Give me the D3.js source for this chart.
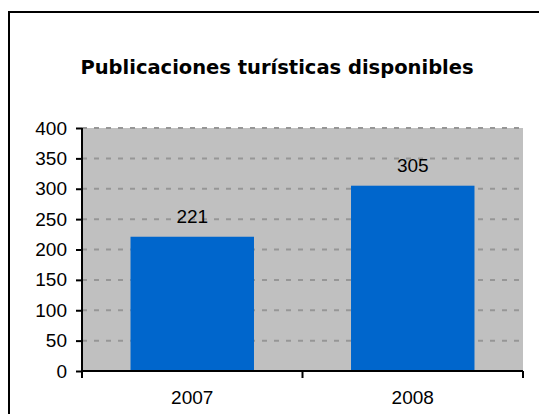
<!DOCTYPE html>
<html>
<head>
<meta charset="utf-8">
<script src="https://cdn.jsdelivr.net/npm/d3@7"></script>
<style>
  body { margin: 0; background: #fff; }
  svg { display: block; }
</style>
</head>
<body>
<div class="chart"></div>
<script>
// chart data
var years = ["2007", "2008"];
var publicaciones = [221, 305];
var yTicks = [0, 50, 100, 150, 200, 250, 300, 350, 400];
var chartTitle = "Publicaciones turísticas disponibles";

var svgWidth = 539;
var svgHeight = 414;
var margin = {top: 128, right: 16, bottom: 43, left: 82};
var chartWidth = 523 - margin.left;
var chartHeight = 371 - margin.top;

var svg = d3.select(".chart")
  .append("svg")
  .attr("width", svgWidth)
  .attr("height", svgHeight);

// outer frame (runs off the right and bottom edges)
svg.append("rect")
  .attr("x", 9)
  .attr("y", 12)
  .attr("width", 600)
  .attr("height", 500)
  .attr("fill", "#fff")
  .attr("stroke", "#000")
  .attr("stroke-width", 2);

svg.append("text")
  .attr("x", 277)
  .attr("y", 74)
  .attr("text-anchor", "middle")
  .style("font-family", "'DejaVu Sans', Verdana, sans-serif")
  .style("font-weight", "bold")
  .style("font-size", "19.5px")
  .text(chartTitle);

var chart = svg.append("g")
  .attr("transform", `translate(${margin.left},${margin.top})`);

var xBand = d3.scaleBand().domain(years).range([0, chartWidth]).paddingInner(0.44).paddingOuter(0.22);
var yLinearScale = d3.scaleLinear().domain([0, 400]).range([chartHeight, 0]);

// plot background
chart.append("rect")
  .attr("width", chartWidth)
  .attr("height", chartHeight)
  .attr("fill", "#c0c0c0");

// dashed gridlines
chart.selectAll(".grid")
  .data(yTicks.slice(1))
  .enter()
  .append("line")
  .attr("class", "grid")
  .attr("x1", 0)
  .attr("x2", chartWidth)
  .attr("y1", function(d) { return yLinearScale(d); })
  .attr("y2", function(d) { return yLinearScale(d); })
  .attr("stroke", "#969696")
  .attr("stroke-width", 2)
  .attr("stroke-dasharray", "5,7");

// bars
chart.selectAll(".bar")
  .data(publicaciones)
  .enter()
  .append("rect")
  .attr("class", "bar")
  .attr("x", function(d, i) { return xBand(years[i]); })
  .attr("y", function(d) { return yLinearScale(d); })
  .attr("width", xBand.bandwidth())
  .attr("height", function(d) { return chartHeight - yLinearScale(d); })
  .attr("fill", "#0066cc");

// value labels
chart.selectAll(".val")
  .data(publicaciones)
  .enter()
  .append("text")
  .attr("class", "val")
  .attr("x", function(d, i) { return xBand(years[i]) + xBand.bandwidth() / 2; })
  .attr("y", function(d) { return yLinearScale(d) - 14; })
  .attr("text-anchor", "middle")
  .style("font-family", "'Liberation Sans', Arial, sans-serif")
  .style("font-size", "19px")
  .attr("fill", "#000")
  .text(function(d) { return d; });

// y axis
var leftAxis = d3.axisLeft(yLinearScale).tickValues(yTicks).tickSize(6).tickPadding(9);
var yAxis = chart.append("g").call(leftAxis);
yAxis.select(".domain").attr("stroke-width", 2).attr("d", `M0,0V${chartHeight}`);
yAxis.selectAll(".tick line").attr("stroke-width", 2);
yAxis.selectAll("text")
  .style("font-family", "'Liberation Sans', Arial, sans-serif")
  .style("font-size", "19px")
  .attr("fill", "#000");

// x axis with ticks between categories
var xEdge = d3.scaleLinear().domain([0, years.length]).range([0, chartWidth]);
var xAxis = chart.append("g").attr("transform", `translate(0,${chartHeight})`);
xAxis.append("line")
  .attr("x1", 0).attr("x2", chartWidth)
  .attr("stroke", "#000").attr("stroke-width", 2);
xAxis.selectAll(".xtick")
  .data(d3.range(years.length + 1))
  .enter()
  .append("line")
  .attr("x1", function(d) { return xEdge(d); })
  .attr("x2", function(d) { return xEdge(d); })
  .attr("y1", 0).attr("y2", 7)
  .attr("stroke", "#000").attr("stroke-width", 2);
xAxis.selectAll(".xlabel")
  .data(years)
  .enter()
  .append("text")
  .attr("x", function(d) { return xBand(d) + xBand.bandwidth() / 2; })
  .attr("y", 33)
  .attr("text-anchor", "middle")
  .style("font-family", "'Liberation Sans', Arial, sans-serif")
  .style("font-size", "19px")
  .text(function(d) { return d; });
</script>
</body>
</html>
